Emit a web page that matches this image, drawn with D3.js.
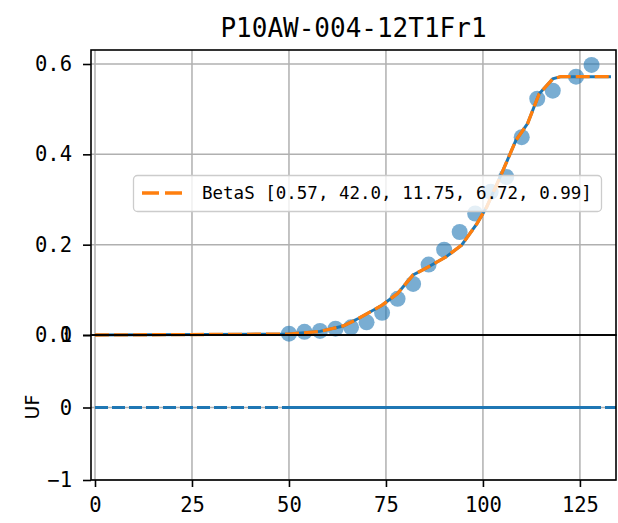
<!DOCTYPE html>
<meta charset="utf-8">
<style>
  body { margin: 0; background: white; }
  text { font-family: "DejaVu Sans Mono", monospace; fill: #000; }
  .tick text { font-size: 20.5px; }
  .axis path, .axis line { stroke: #000; stroke-width: 1.6; }
  .grid line { stroke: #b0b0b0; stroke-width: 1.5; }
</style>
<body>
<svg id="chart" width="618" height="523"></svg>
<script src="https://cdn.jsdelivr.net/npm/d3@7"></script>
<script>
  // values
  var title = "P10AW-004-12T1Fr1";
  var legendLabel = "BetaS [0.57, 42.0, 11.75, 6.72, 0.99]";
  var obsX = [50, 54, 58, 62, 66, 70, 74, 78, 82, 86, 90, 94, 98, 102, 106, 110, 114, 118, 124, 128];
  var obsY = [0.003, 0.007, 0.009, 0.014, 0.017, 0.028, 0.049, 0.080, 0.113, 0.156, 0.189, 0.228, 0.269, 0.317, 0.350, 0.438, 0.523, 0.541, 0.572, 0.598];
  var fitX = [0, 50, 58, 64, 68, 74, 78, 82, 86, 90.5, 94.5, 98.5, 101, 105, 108.5, 111.5, 114.5, 118, 120, 133];
  var fitY = [0, 0.002, 0.008, 0.020, 0.037, 0.066, 0.092, 0.133, 0.151, 0.173, 0.199, 0.247, 0.284, 0.361, 0.431, 0.468, 0.534, 0.567, 0.572, 0.572];
  var ufY = [0, 0, 0, 0, 0, 0, 0, 0, 0, 0, 0, 0, 0, 0, 0, 0, 0, 0, 0, 0];
  var refX = [0, 135];
  var refY = [0, 0];
  var xTicks = [0, 25, 50, 75, 100, 125];
  var yTicksTop = [0, 0.2, 0.4, 0.6];
  var yTicksBottom = [-1, 0, 1];

  var mLeft = 91, mRight = 616, mTop = 50, mMid = 335, mBottom = 480;

  var svg = d3.select("#chart");
  svg.append("rect").attr("width", 618).attr("height", 523).attr("fill", "white");

  var x = d3.scaleLinear().domain([-1.03, 134.3]).range([mLeft, mRight]);
  var yTop = d3.scaleLinear().domain([0, 0.631]).range([mMid, mTop]);
  var yBot = d3.scaleLinear().domain([-1, 1]).range([mBottom, mMid]);

  svg.append("defs").append("clipPath").attr("id", "clipBot")
    .append("rect").attr("x", mLeft).attr("y", mMid).attr("width", mRight - mLeft).attr("height", mBottom - mMid);

  // grids
  var grid = svg.append("g").attr("class", "grid");
  xTicks.forEach(function (t) {
    grid.append("line").attr("x1", x(t)).attr("x2", x(t)).attr("y1", mTop).attr("y2", mBottom);
  });
  yTicksTop.forEach(function (t) {
    grid.append("line").attr("x1", mLeft).attr("x2", mRight).attr("y1", yTop(t)).attr("y2", yTop(t));
  });
  yTicksBottom.forEach(function (t) {
    grid.append("line").attr("x1", mLeft).attr("x2", mRight).attr("y1", yBot(t)).attr("y2", yBot(t));
  });

  // observed points
  svg.append("g").selectAll("circle")
    .data(obsX)
    .enter().append("circle")
    .attr("cx", d => x(d))
    .attr("cy", (d, i) => yTop(obsY[i]))
    .attr("r", 8)
    .attr("fill", "#1f77b4")
    .attr("fill-opacity", 0.6);

  var fit = fitX.map((d, i) => [d, fitY[i]]);
  var lineTop = d3.line().x(d => x(d[0])).y(d => yTop(d[1]));
  svg.append("path").datum(fit).attr("d", lineTop)
    .attr("fill", "none").attr("stroke", "#1f77b4").attr("stroke-width", 3);
  svg.append("path").datum(fit).attr("d", lineTop)
    .attr("fill", "none").attr("stroke", "#ff7f0e").attr("stroke-width", 3.3)
    .attr("stroke-dasharray", "14,5");

  // bottom panel
  var lineBot = d3.line().x(d => x(d[0])).y(d => yBot(d[1]));
  var gBot = svg.append("g").attr("clip-path", "url(#clipBot)");
  gBot.append("path").datum(refX.map((d, i) => [d, refY[i]])).attr("d", lineBot)
    .attr("fill", "none").attr("stroke", "#1f77b4").attr("stroke-width", 3.2)
    .attr("stroke-dasharray", "13,4");
  gBot.append("path").datum(obsX.map((d, i) => [d, ufY[i]])).attr("d", lineBot)
    .attr("fill", "none").attr("stroke", "#1f77b4").attr("stroke-width", 3.2);

  // axes
  svg.append("g").attr("class", "axis")
    .attr("transform", "translate(" + mLeft + ",0)")
    .call(d3.axisLeft(yTop).tickValues(yTicksTop).tickFormat(d3.format(".1f")).tickSize(8).tickPadding(11).tickSizeOuter(0));
  svg.append("g").attr("class", "axis")
    .attr("transform", "translate(" + mLeft + ",0)")
    .call(d3.axisLeft(yBot).tickValues(yTicksBottom).tickFormat(d3.format("d")).tickSize(8).tickPadding(11).tickSizeOuter(0));
  svg.append("g").attr("class", "axis")
    .attr("transform", "translate(0," + mBottom + ")")
    .call(d3.axisBottom(x).tickValues(xTicks).tickSize(7).tickPadding(10).tickSizeOuter(0));
  svg.selectAll(".axis .domain").remove();
  svg.selectAll(".axis text").attr("font-family", "DejaVu Sans Mono");

  // spines
  [[mTop, mMid], [mMid, mBottom]].forEach(function (r) {
    svg.append("rect").attr("x", mLeft).attr("y", r[0]).attr("width", mRight - mLeft).attr("height", r[1] - r[0])
      .attr("fill", "none").attr("stroke", "#000").attr("stroke-width", 1.6);
  });

  svg.append("text")
    .attr("x", (mLeft + mRight) / 2).attr("y", 37)
    .attr("text-anchor", "middle")
    .style("font-size", "26px")
    .text(title);

  svg.append("text")
    .attr("transform", "translate(39,407) rotate(-90)")
    .attr("text-anchor", "middle")
    .style("font-family", "DejaVu Sans")
    .style("font-size", "19px")
    .text("UF");

  // legend
  var lg = svg.append("g");
  lg.append("rect").attr("x", 133.5).attr("y", 175.5).attr("width", 468).attr("height", 36).attr("rx", 4)
    .attr("fill", "white").attr("fill-opacity", 0.8).attr("stroke", "#cccccc").attr("stroke-width", 1.3);
  lg.append("line").attr("x1", 142).attr("x2", 185).attr("y1", 193).attr("y2", 193)
    .attr("stroke", "#ff7f0e").attr("stroke-width", 3.3).attr("stroke-dasharray", "17,6");
  lg.append("text").attr("x", 202).attr("y", 199).style("font-size", "17.5px").text(legendLabel);
</script>
</body>
</html>
